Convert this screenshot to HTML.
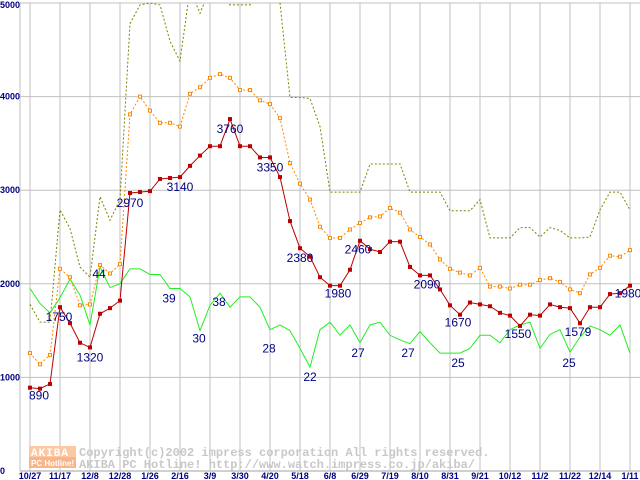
<!DOCTYPE html>
<html><head><meta charset="utf-8"><style>
html,body{margin:0;padding:0;background:#fff;width:640px;height:480px;overflow:hidden}
svg{display:block}
.lbl{font-family:"Liberation Sans",sans-serif;font-size:12px;fill:#000080}
.tk{font-family:"Liberation Sans",sans-serif;font-size:9px;font-weight:bold;fill:#000080}
.wm{font-family:"Liberation Mono",monospace;font-size:12px;font-weight:bold;fill:#c8c8c8}
</style></head><body>
<svg id="chart" width="640" height="480" viewBox="0 0 640 480" xmlns="http://www.w3.org/2000/svg"></svg>
<script>
const xTickLabels=["10/27","11/17","12/8","12/28","1/26","2/16","3/9","3/30","4/20","5/18","6/8","6/29","7/19","8/10","8/31","9/21","10/12","11/2","11/22","12/14","1/11"];
const yTickValues=[0,1000,2000,3000,4000,5000];
const redSeries=[890,880,930,1750,1580,1370,1320,1680,1740,1820,2970,2980,2990,3120,3130,3140,3260,3370,3470,3470,3760,3470,3470,3350,3350,3140,2670,2380,2290,2070,1980,1980,2150,2460,2370,2340,2450,2450,2180,2090,2090,1940,1770,1670,1800,1780,1760,1690,1660,1550,1670,1660,1780,1750,1740,1579,1750,1750,1890,1900,1980];
const orangeSeries=[1260,1140,1240,2160,2070,1770,1780,2200,2110,2210,3810,4000,3850,3720,3720,3680,4030,4100,4200,4240,4200,4070,4070,3960,3920,3770,3290,3070,2900,2610,2490,2490,2580,2650,2710,2720,2810,2760,2580,2500,2420,2260,2160,2120,2090,2170,1970,1970,1950,1990,1990,2040,2060,2020,1940,1900,2100,2170,2300,2290,2360];
const oliveSeries=[1780,1590,1590,2790,2590,2180,2070,2930,2680,2900,4780,4980,5000,4980,4590,4380,5150,4890,5150,5100,4980,4980,4980,5200,5150,5000,3990,3990,3980,3680,2980,2980,2980,2980,3280,3280,3280,3280,2980,2980,2980,2980,2780,2780,2780,2900,2490,2490,2490,2600,2600,2500,2600,2570,2490,2490,2500,2790,2980,2980,2790];
const greenSeries=[1950,1790,1690,1850,2050,1880,1560,2180,1960,2000,2160,2160,2100,2100,1950,1950,1860,1500,1770,1900,1750,1860,1860,1750,1510,1560,1500,1310,1110,1510,1590,1450,1560,1370,1560,1590,1450,1400,1360,1490,1370,1260,1260,1260,1310,1450,1450,1370,1510,1560,1590,1310,1460,1510,1270,1430,1550,1510,1450,1560,1260];
const annotTexts=["890","1750","1320","44","2970","3140","39","30","38","3760","3350","28","2380","22","1980","27","2460","27","2090","1670","25","1550","1579","25","1980"];
const annotValues=[890,1750,1320,2180,2970,3140,1950,1500,1900,3760,3350,1510,2380,1110,1980,1370,2460,1400,2090,1670,1260,1550,1579,1260,1980];
const annotIndex=[0.9,2.9,6,6.9,10,15,13.9,16.9,18.9,20,24,23.9,27,28,30.8,32.8,32.8,37.8,39.7,42.8,42.8,48.8,54.8,53.9,59.8];
const annotDy=[12,14,14,11,14,14,14,12,13,14,14,23,14,14,12,14,13,17,13,12,14,12,13,14,12];

const X0=30,DX=10,Y0=471,PER=0.0936;
const xs=i=>X0+i*DX;
const ys=v=>Y0-v*PER;
const NS="http://www.w3.org/2000/svg";
const svg=document.getElementById('chart');
function mk(tag,attrs){const e=document.createElementNS(NS,tag);for(const k in attrs)e.setAttribute(k,attrs[k]);svg.appendChild(e);return e;}

const defs=mk('defs',{});
const cp=document.createElementNS(NS,'clipPath');cp.setAttribute('id','plot');
const cr=document.createElementNS(NS,'rect');cr.setAttribute('x',20);cr.setAttribute('y',3);cr.setAttribute('width',620);cr.setAttribute('height',470);
cp.appendChild(cr);defs.appendChild(cp);

yTickValues.forEach(v=>{
  const l=mk('line',{x1:20,x2:640,y1:ys(v),y2:ys(v),stroke:v===0?'#a0a0a0':'#c0c0c0','stroke-width':1});
  
  
  const t=mk('text',{x:0,y:ys(v)+(v===5000?5:3),class:'tk'});
  t.textContent=v;
  
  
});
xTickLabels.forEach((s,i)=>{
  const x=xs(i*3);
  const l=mk('line',{x1:x,x2:x,y1:3,y2:Y0,stroke:'#c0c0c0','stroke-width':1});
  
  
  const t=mk('text',{x:x,y:479,class:'tk','text-anchor':'middle'});
  t.textContent=s;
  
  
});
const ax=mk('line',{x1:20,x2:20,y1:3,y2:Y0,stroke:'#c0c0c0'});



const lg=mk('rect',{x:29,y:446,width:47,height:11,fill:'#fcc8a4'});


mk('rect',{x:29,y:457,width:47,height:11,fill:'#f9b488'});
const l1=mk('text',{x:31,y:456,fill:'#fff','font-family':'Liberation Mono,monospace','font-size':'11px','font-weight':'bold','letter-spacing':'1'});l1.textContent='AKIBA';
const l2=mk('text',{x:31,y:466,fill:'#fff','font-family':'Liberation Sans,sans-serif','font-size':'8px','font-weight':'bold'});l2.textContent='PC Hotline!';
const w1=mk('text',{x:79,y:456,class:'wm'});w1.textContent='Copyright(c)2002 impress corporation All rights reserved.';


const w2=mk('text',{x:79,y:468,class:'wm'});w2.textContent='AKIBA PC Hotline! http://www.watch.impress.co.jp/akiba/';



function line(data,color,dash,name){
  const g=mk('g',{'clip-path':'url(#plot)'});
  const p=document.createElementNS(NS,'polyline');
  p.setAttribute('points',data.map((v,i)=>xs(i)+','+ys(v)).join(' '));
  p.setAttribute('fill','none');p.setAttribute('stroke',color);p.setAttribute('stroke-width',1);
  if(dash)p.setAttribute('stroke-dasharray',dash);
  
  
  g.appendChild(p);
  return g;
}
line(greenSeries,'#22ee22',null,'green-series-line');
line(oliveSeries,'#808000','2,2','olive-series-line');
line(orangeSeries,'#ff8800','2,2','orange-series-line');
orangeSeries.forEach((v,i)=>{
  const r=mk('rect',{x:xs(i)-1.5,y:ys(v)-1.5,width:3,height:3,fill:'#fff',stroke:'#ff8800','stroke-width':1});
  
  
});
line(redSeries,'#bb0000',null,'red-series-line');
redSeries.forEach((v,i)=>{
  const r=mk('rect',{x:xs(i)-2,y:ys(v)-2,width:4,height:4,fill:'#bb0000'});
  
  
});
annotTexts.forEach((s,k)=>{
  const t=mk('text',{x:xs(annotIndex[k]),y:ys(annotValues[k])+annotDy[k],class:'lbl','text-anchor':'middle'});
  t.textContent=s;
  
  
});
</script>
</body></html>
